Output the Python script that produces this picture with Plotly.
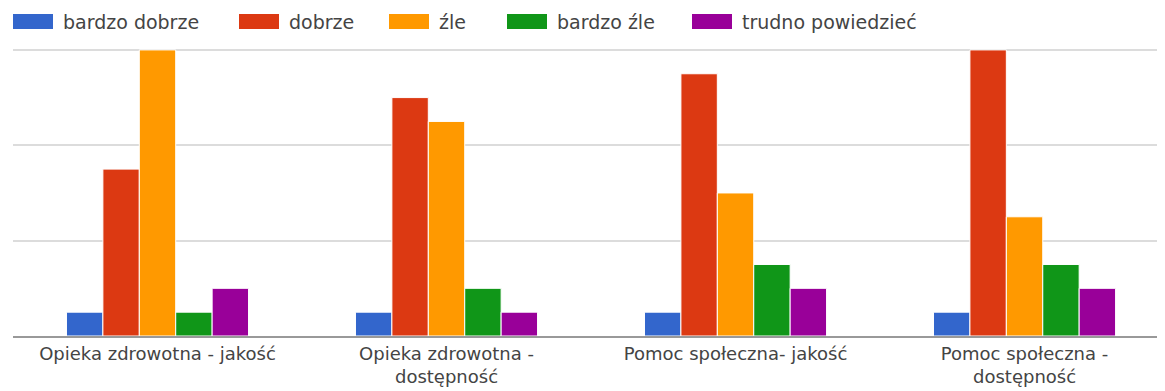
import plotly.graph_objects as go

categories = [
    "Opieka zdrowotna - jakość",
    "Opieka zdrowotna -<br>dostępność",
    "Pomoc społeczna- jakość",
    "Pomoc społeczna -<br>dostępność",
]

bardzo_dobrze = [1, 1, 1, 1]
dobrze = [7, 10, 11, 12]
zle = [12, 9, 6, 5]
bardzo_zle = [1, 2, 3, 3]
trudno = [2, 1, 2, 2]

series = [
    ("bardzo dobrze", bardzo_dobrze, "#3366cc"),
    ("dobrze", dobrze, "#dc3912"),
    ("źle", zle, "#ff9900"),
    ("bardzo źle", bardzo_zle, "#109618"),
    ("trudno powiedzieć", trudno, "#990099"),
]

# legend entry offsets (px from the left edge of the plot area)
legend_x = [0, 226, 376, 494, 679]

fig = go.Figure()
for name, vals, color in series:
    fig.add_trace(go.Bar(
        x=list(range(len(categories))), y=vals, name=name,
        marker=dict(color=color, line=dict(color="white", width=1)),
        showlegend=False,
    ))

# google-charts style legend: wide swatch + label
for (name, vals, color), off in zip(series, legend_x):
    fig.add_shape(type="rect", xref="paper", yref="paper",
                  xsizemode="pixel", ysizemode="pixel", xanchor=0, yanchor=1,
                  x0=off, x1=off + 40, y0=19, y1=34,
                  fillcolor=color, line=dict(width=0))
    fig.add_annotation(text=name, xref="paper", yref="paper", x=0, y=1,
                       xshift=off + 48, yshift=26, xanchor="left", yanchor="middle",
                       showarrow=False, font=dict(size=19, color="#444"))

# page body adds an 8px margin, so the figure is a bit smaller than the window
fig.update_layout(
    width=1157, height=383,
    margin=dict(l=5, r=0, t=40, b=55),
    barmode="group", bargap=0.37, bargroupgap=0,
    plot_bgcolor="white", paper_bgcolor="white",
    font=dict(family="DejaVu Sans", size=18, color="#444"),
    showlegend=False,
    xaxis=dict(
        tickmode="array", tickvals=list(range(len(categories))), ticktext=categories,
        range=[-0.5, 3.486], showline=True, linecolor="#999", linewidth=2,
        ticks="", showgrid=False, automargin=False,
        tickfont=dict(size=18, color="#444"),
    ),
    yaxis=dict(range=[0, 12.08], tickvals=[4, 8, 12], showticklabels=False,
               gridcolor="#dcdcdc", gridwidth=2, zeroline=False, automargin=False),
)

fig.write_html("out.html")
